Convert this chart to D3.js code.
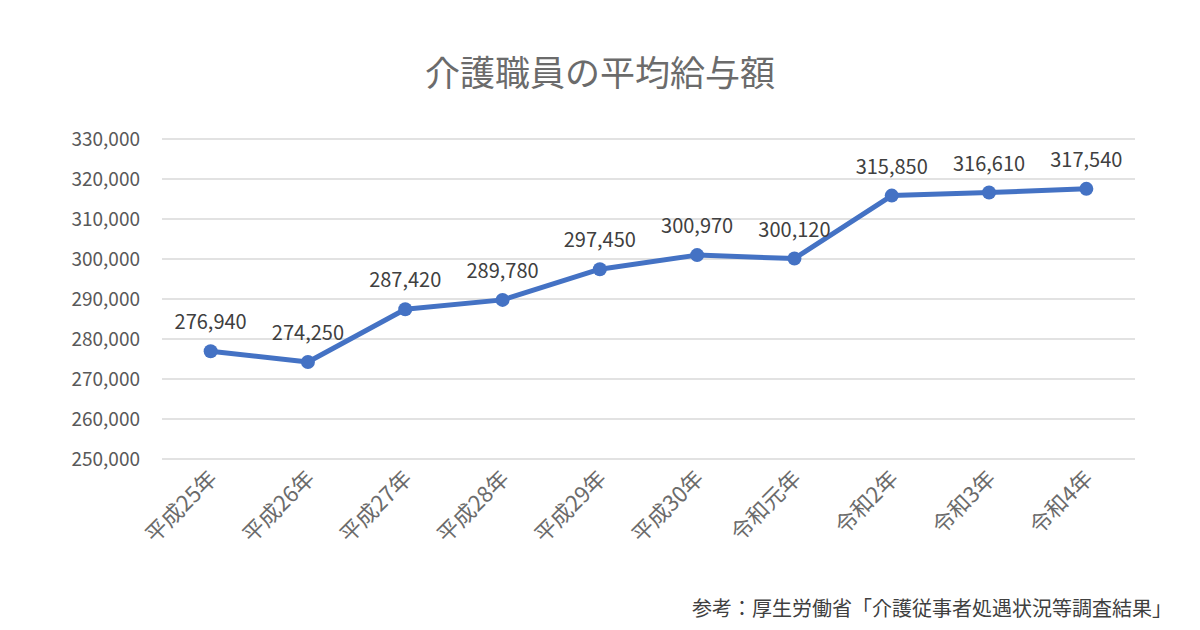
<!DOCTYPE html>
<html><head><meta charset="utf-8">
<script src="https://cdn.jsdelivr.net/npm/d3@7"></script>
<style>body{margin:0;background:#fff;font-family:"Noto Sans CJK JP","Noto Sans",sans-serif;}</style>
</head><body>
<svg id="chart" width="1200" height="630"></svg>
<script>
var categories = ["平成25年","平成26年","平成27年","平成28年","平成29年","平成30年","令和元年","令和2年","令和3年","令和4年"];
var salaries = [276940, 274250, 287420, 289780, 297450, 300970, 300120, 315850, 316610, 317540];
var yTicks = [250000, 260000, 270000, 280000, 290000, 300000, 310000, 320000, 330000];

var svg = d3.select("#chart");
var fmt = d3.format(",");

// 目盛り
var xScale = d3.scaleBand().domain(categories).range([162, 1135]);
var yScale = d3.scaleLinear().domain([250000, 330000]).range([459, 139]);

// タイトル
svg.append("text").attr("x", 600).attr("y", 86).attr("text-anchor", "middle")
    .style("font-size", "35px").attr("fill", "#6b6b6b").text("介護職員の平均給与額");

// グリッド線
svg.selectAll(".grid").data(yTicks).enter().append("line")
    .attr("x1", 162).attr("x2", 1135)
    .attr("y1", d => yScale(d)).attr("y2", d => yScale(d))
    .attr("stroke", "#d9d9d9").attr("stroke-width", 1.5);

// Y軸ラベル
svg.selectAll(".ylab").data(yTicks).enter().append("text")
    .attr("x", 140).attr("y", d => yScale(d) + 7).attr("text-anchor", "end")
    .style("font-size", "19px").attr("fill", "#595959").text(d => fmt(d));

// X軸ラベル
svg.selectAll(".xlab").data(categories).enter().append("text")
    .attr("transform", d => "translate(" + (xScale(d) + xScale.bandwidth() / 2 + 8) + ",480) rotate(-45)")
    .attr("text-anchor", "end")
    .style("font-size", "22px").attr("fill", "#6b6b6b").text(d => d);

// 折れ線
var cx = (d, i) => xScale(categories[i]) + xScale.bandwidth() / 2;
svg.append("path").datum(salaries)
    .attr("fill", "none").attr("stroke", "#4472C4").attr("stroke-width", 5)
    .attr("stroke-linejoin", "round")
    .attr("d", d3.line().x(cx).y(d => yScale(d)));

svg.selectAll(".pt").data(salaries).enter().append("circle")
    .attr("cx", cx).attr("cy", d => yScale(d)).attr("r", 7).attr("fill", "#4472C4");

// データラベル
svg.selectAll(".dl").data(salaries).enter().append("text")
    .attr("x", cx).attr("y", d => yScale(d) - 22).attr("text-anchor", "middle")
    .style("font-size", "20px").attr("fill", "#404040").text(d => fmt(d));

// 出典
svg.append("text").attr("x", 1172).attr("y", 616).attr("text-anchor", "end")
    .style("font-size", "20px").attr("fill", "#404040").text("参考：厚生労働省「介護従事者処遇状況等調査結果」");
</script>
</body></html>
